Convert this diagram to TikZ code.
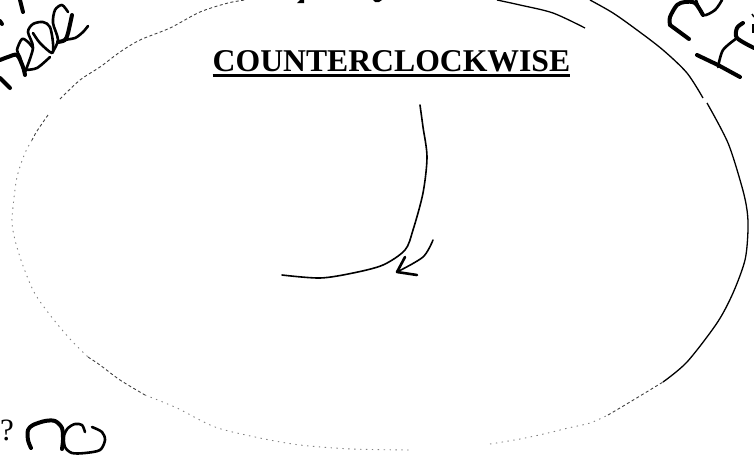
\documentclass[tikz,border=0pt]{standalone}
\usepackage{fontspec}
\setmainfont{Liberation Serif}
\tikzset{
  pen/.style={line width=2.6pt, line cap=round, line join=round},
  penthick/.style={line width=4pt, line cap=round, line join=round},
  curve/.style={line width=1.6pt, line cap=round, line join=round},
  ringsolid/.style={line width=1.3pt},
  ringfaint/.style={line width=0.9pt, black!75, dash pattern=on 3pt off 2.5pt},
  ringdots/.style={line width=0.9pt, gray, dash pattern=on 1.4pt off 4.5pt}
}
\begin{document}
\begin{tikzpicture}[x=1pt,y=-1pt]
\useasboundingbox (0,0) rectangle (754,459);
\draw[ringfaint] plot[smooth] coordinates {(60,99) (80,80) (100,67) (120,52) (140,40) (170,28) (200,12) (228,3) (245,0)};
\draw[ringfaint] plot[smooth] coordinates {(48,115) (37,131) (32,140)};
\draw[ringdots] plot[smooth] coordinates {(32,140) (25,153) (17,177) (13,207) (12,223) (15,240) (22,263) (34,292) (50,315) (70,339) (88,357)};
\draw[ringfaint] plot[smooth] coordinates {(88,357) (100,365) (120,380) (145,395)};
\draw[ringdots] plot[smooth] coordinates {(145,395) (177,408) (215,427) (260,438) (300,445) (352,449) (413,450)};
\draw[ringdots] plot[smooth] coordinates {(490,444) (520,439) (548,433) (568,428) (590,423) (608,415)};
\draw[ringfaint] plot[smooth] coordinates {(608,415) (630,402) (663,382)};
\draw[ringsolid] plot[smooth] coordinates {(663,382) (687,362) (717,323) (733,293) (745,260) (748,230) (747,210) (742,187) (728,143) (707,103)};
\draw[ringsolid] plot[smooth] coordinates {(703,98) (687,73) (663,50) (637,30) (613,13) (590,0)};
\draw[ringsolid] plot[smooth] coordinates {(497,0) (520,5) (553,13) (585,28)};
\node[font=\fontsize{31.7}{32}\selectfont\bfseries, inner sep=0pt, anchor=base] (title) at (391.5,71) {COUNTERCLOCKWISE};
\draw[line width=3pt] (title.base west)++(0,4.5) -- ++(357,0);
\node[font=\fontsize{31}{32}\selectfont, inner sep=0pt, anchor=base west] (question) at (0,440) {?};
\draw[curve] plot[smooth] coordinates {(420,105) (423,127) (427,157) (423,193) (413,230) (405,250) (383,265) (353,273) (320,278) (282,275)};
\draw[curve] plot[smooth] coordinates {(433,240) (423,257) (397,272)};
\draw[pen] (405,257) -- (397,272) -- (417,275);
\draw[penthick] plot[smooth] coordinates {(31,448) (28,440) (28,430) (33,425) (45,421) (55,421) (62,428) (63,440) (62,449)};
\draw[pen] plot[smooth] coordinates {(85,432) (82,425) (75,424) (68,428) (64,436) (65,447) (72,453) (85,453) (100,450) (105,440) (102,432) (92,427)};
\draw[penthick] (20,0) -- (23,12);
\draw[penthick] (0,78) -- (10,88);
\draw[penthick] (0,21) -- (2,24);
\draw[penthick] plot[smooth] coordinates {(0,60) (8,57) (17,55) (23,67) (25,75)};
\draw[pen] plot[smooth] coordinates {(25,75) (20,57) (17,50) (22,39) (28,42) (33,48)};
\draw[pen] plot[smooth] coordinates {(25,70) (37,68) (50,57)};
\draw[pen] plot[smooth] coordinates {(25,72) (33,48) (28,32) (33,24) (43,22) (50,27) (53,43) (52,53) (40,43) (33,33)};
\draw[pen] plot[smooth] coordinates {(52,53) (58,40) (53,23) (55,10) (62,5) (68,12)};
\draw[penthick] plot[smooth] coordinates {(72,15) (68,33) (65,40) (58,42)};
\draw[pen] plot[smooth] coordinates {(63,40) (75,38) (83,32) (88,26)};
\draw[penthick] plot[smooth] coordinates {(689,39) (670,25)};
\draw[penthick] plot[smooth] coordinates {(670,25) (670,17) (677,5) (685,2) (695,3) (703,15)};
\draw[pen] plot[smooth] coordinates {(696,0) (703,15) (715,10) (722,0)};
\draw[penthick] (697,55) -- (718,65) -- (740,77);
\draw[pen] plot[smooth] coordinates {(718,67) (723,50) (737,38)};
\draw[penthick] plot[smooth] coordinates {(743,23) (737,28) (737,38) (754,48)};
\draw[line width=1.5pt] (753,24) -- (753,33);
\draw[line width=1.5pt] (752,14) -- (754,17);
\fill (297,3) -- (300,0) -- (304,0) -- (304,3) -- cycle;
\fill (373,0) -- (382,0) -- (379,2) -- (375,2) -- cycle;
\end{tikzpicture}
\end{document}
